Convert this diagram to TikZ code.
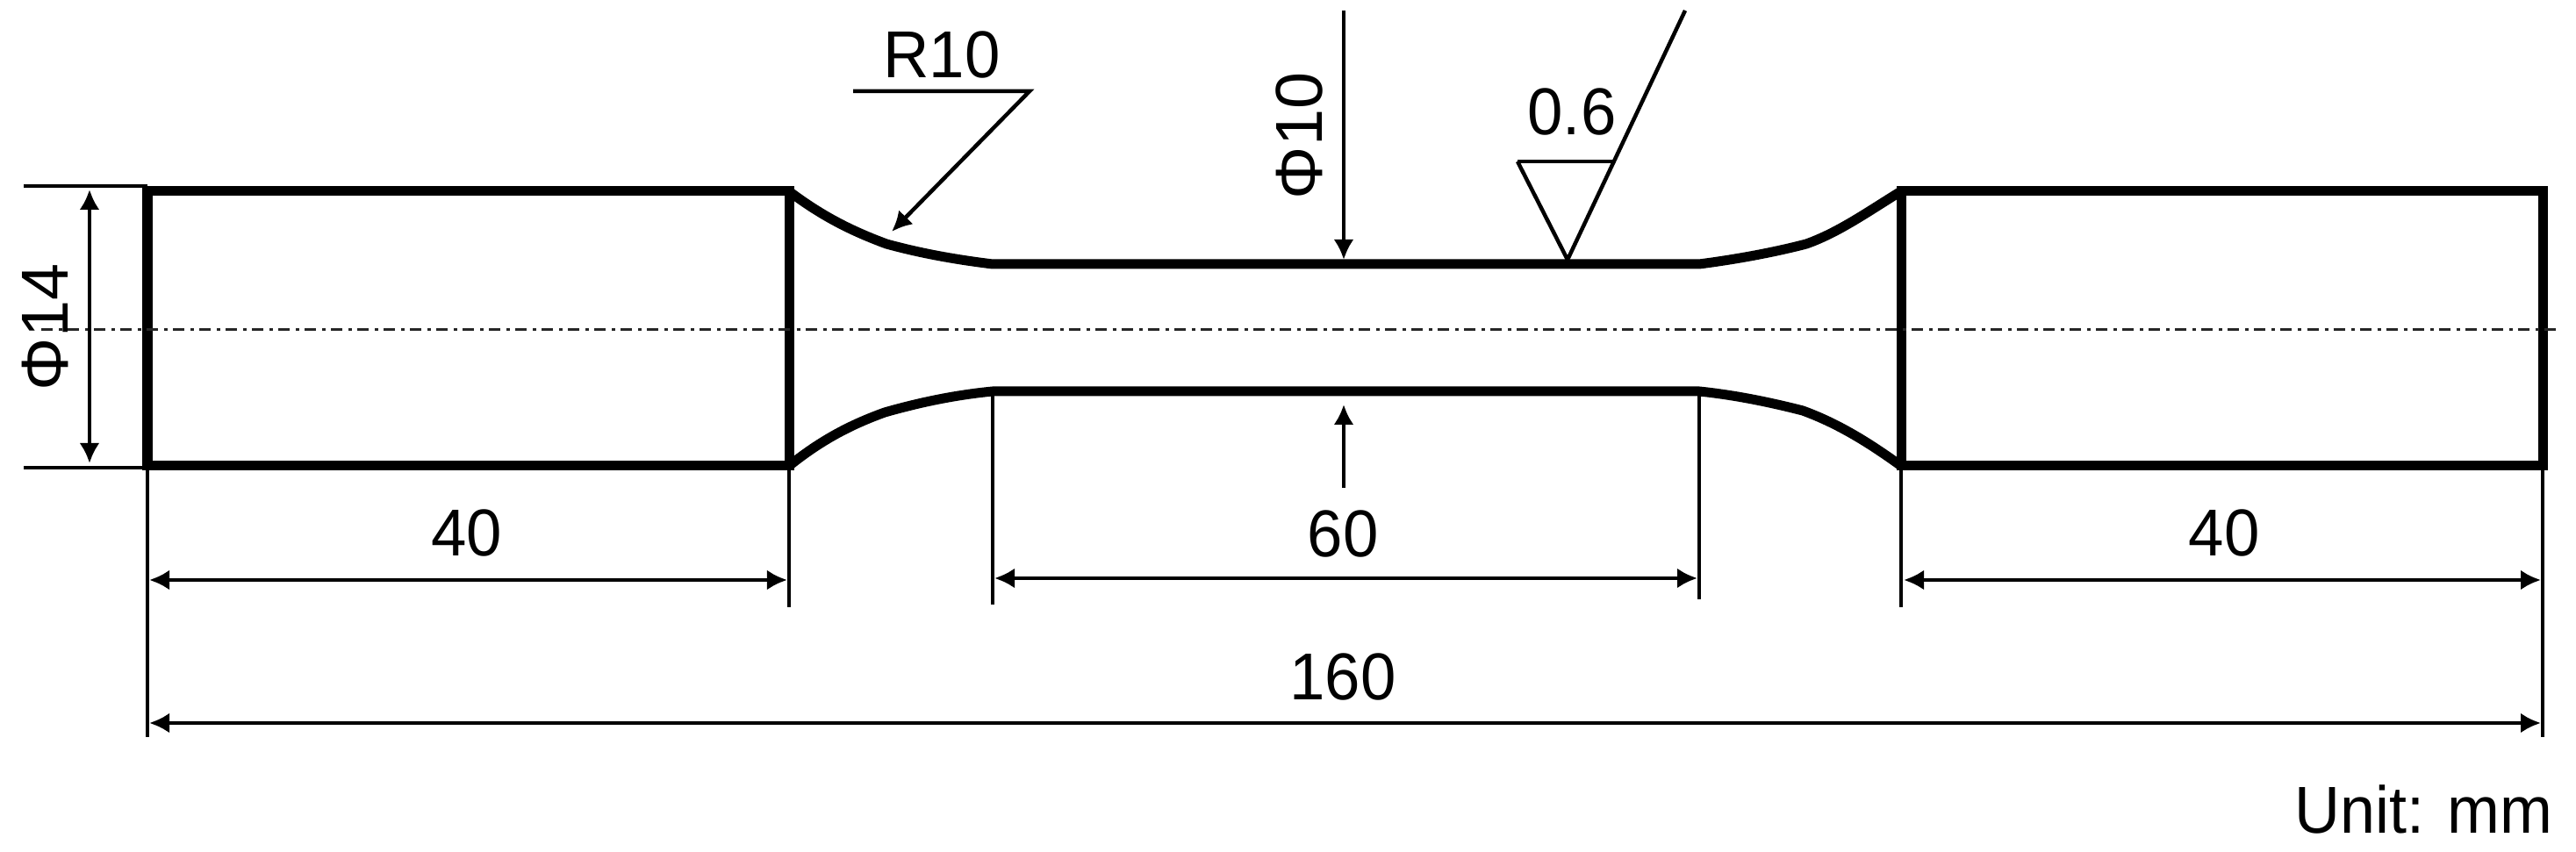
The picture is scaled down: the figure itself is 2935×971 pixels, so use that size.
\documentclass[tikz,border=0pt]{standalone}
\usepackage{fontspec}
\setmainfont{Liberation Sans}
\usetikzlibrary{arrows.meta}
\tikzset{
    outline/.style={line width=1.1mm, line join=miter},
    extline/.style={line width=0.45mm},
    dimline/.style={line width=0.45mm, {Latex[length=2.3mm,width=2.3mm]}-{Latex[length=2.3mm,width=2.3mm]}},
    leader/.style={line width=0.45mm, -{Latex[length=2.3mm,width=2.3mm]}},
    axisline/.style={line width=0.3mm, black!85, dash pattern=on 1.3mm off 0.7mm on 0.4mm off 0.6mm},
    label/.style={font=\fontsize{21.5pt}{24pt}\selectfont, inner sep=0pt},
}

\begin{document}
\begin{tikzpicture}[x=0.01cm, y=-0.01cm]
    \useasboundingbox (0,0) rectangle (2935,971);
    % specimen corners
    \coordinate (lo1) at (168,218);
    \coordinate (lo2) at (899,218);
    \coordinate (lo3) at (899,531);
    \coordinate (lo4) at (168,531);
    \coordinate (ro1) at (2166,218);
    \coordinate (ro2) at (2897,218);
    \coordinate (ro3) at (2897,531);
    \coordinate (ro4) at (2166,531);
    % reduced section
    \coordinate (n1) at (1131,301);
    \coordinate (n2) at (1936,301);
    \coordinate (n3) at (1131,446);
    \coordinate (n4) at (1936,446);
    \coordinate (f1) at (1010,278);
    \coordinate (f2) at (2058,278);
    \coordinate (f3) at (1008,470);
    \coordinate (f4) at (2054,468);
    % body
    \draw [outline] (lo1) -- (lo2) -- (lo3) -- (lo4) -- cycle;
    \draw [outline] (ro1) -- (ro2) -- (ro3) -- (ro4) -- cycle;
    \draw [outline] (lo2) .. controls (940,249) and (975,265) .. (f1)
        .. controls (1050,289) and (1090,296) .. (n1) -- (n2)
        .. controls (1975,296) and (2020,288) .. (f2)
        .. controls (2095,265) and (2130,240) .. (ro1);
    \draw [outline] (lo3) .. controls (940,498) and (975,482) .. (f3)
        .. controls (1050,458) and (1090,450) .. (n3) -- (n4)
        .. controls (1975,450) and (2015,458) .. (f4)
        .. controls (2095,483) and (2130,505) .. (ro4);
    % centre line
    \coordinate (c1) at (47,376);
    \coordinate (c2) at (2918,376);
    \draw [axisline] (c1) -- (c2);
    % extension lines
    \coordinate (e1) at (27,212);
    \coordinate (e2) at (27,533);
    \coordinate (e3) at (168,840);
    \coordinate (e4) at (899,692);
    \coordinate (e5) at (1131,689);
    \coordinate (e6) at (1936,683);
    \coordinate (e7) at (2166,692);
    \coordinate (e8) at (2897,840);
    \draw [extline] (e1) -- (lo1 |- e1);
    \draw [extline] (e2) -- (lo4 |- e2);
    \draw [extline] (lo4) -- (e3);
    \draw [extline] (lo3) -- (e4);
    \draw [extline] (n3) -- (e5);
    \draw [extline] (n4) -- (e6);
    \draw [extline] (ro4) -- (e7);
    \draw [extline] (ro3) -- (e8);
    % dimensions
    \coordinate (d1) at (102,216);
    \coordinate (d2) at (102,528);
    \draw [dimline] (d1) -- (d2);
    \node [label, rotate=90] (phi14) at (52,373) {Φ14};
    \coordinate (d3) at (170,661);
    \coordinate (d4) at (897,661);
    \draw [dimline] (d3) -- (d4);
    \node [label, xscale=0.96] (left40) at (532,607) {40};
    \coordinate (d5) at (1133,659);
    \coordinate (d6) at (1934,659);
    \draw [dimline] (d5) -- (d6);
    \node [label, xscale=0.96] (mid60) at (1530,608) {60};
    \coordinate (d7) at (2169,661);
    \coordinate (d8) at (2895,661);
    \draw [dimline] (d7) -- (d8);
    \node [label, xscale=0.96] (right40) at (2534,607) {40};
    \coordinate (d9) at (170,824);
    \coordinate (d10) at (2895,824);
    \draw [dimline] (d9) -- (d10);
    \node [label, xscale=0.96] (all160) at (1530,771) {160};
    % fillet radius
    \coordinate (r1) at (972,104);
    \coordinate (r2) at (1173,104);
    \coordinate (r3) at (1016,264);
    \draw [leader] (r1) -- (r2) -- (r3);
    \node [label, xscale=0.96] (r10) at (1073,62) {R10};
    % neck diameter
    \coordinate (p1) at (1531,12);
    \coordinate (p2) at (1531,296);
    \coordinate (p3) at (1531,556);
    \coordinate (p4) at (1531,461);
    \draw [leader] (p1) -- (p2);
    \draw [leader] (p3) -- (p4);
    \node [label, rotate=90] (phi10) at (1480,155) {Φ10};
    % roughness mark
    \coordinate (s1) at (1729,184);
    \coordinate (s2) at (1840,184);
    \coordinate (s3) at (1786,296);
    \coordinate (s4) at (1920,12);
    \draw [extline] (s1) -- (s2);
    \draw [extline] (s1) -- (s3) -- (s4);
    \node [label, xscale=0.96] (ra) at (1791,127) {0.6};
    % unit
    \node [label, anchor=east, xscale=0.95] (unit) at (2909,922) {Unit: mm};
\end{tikzpicture}
\end{document}
